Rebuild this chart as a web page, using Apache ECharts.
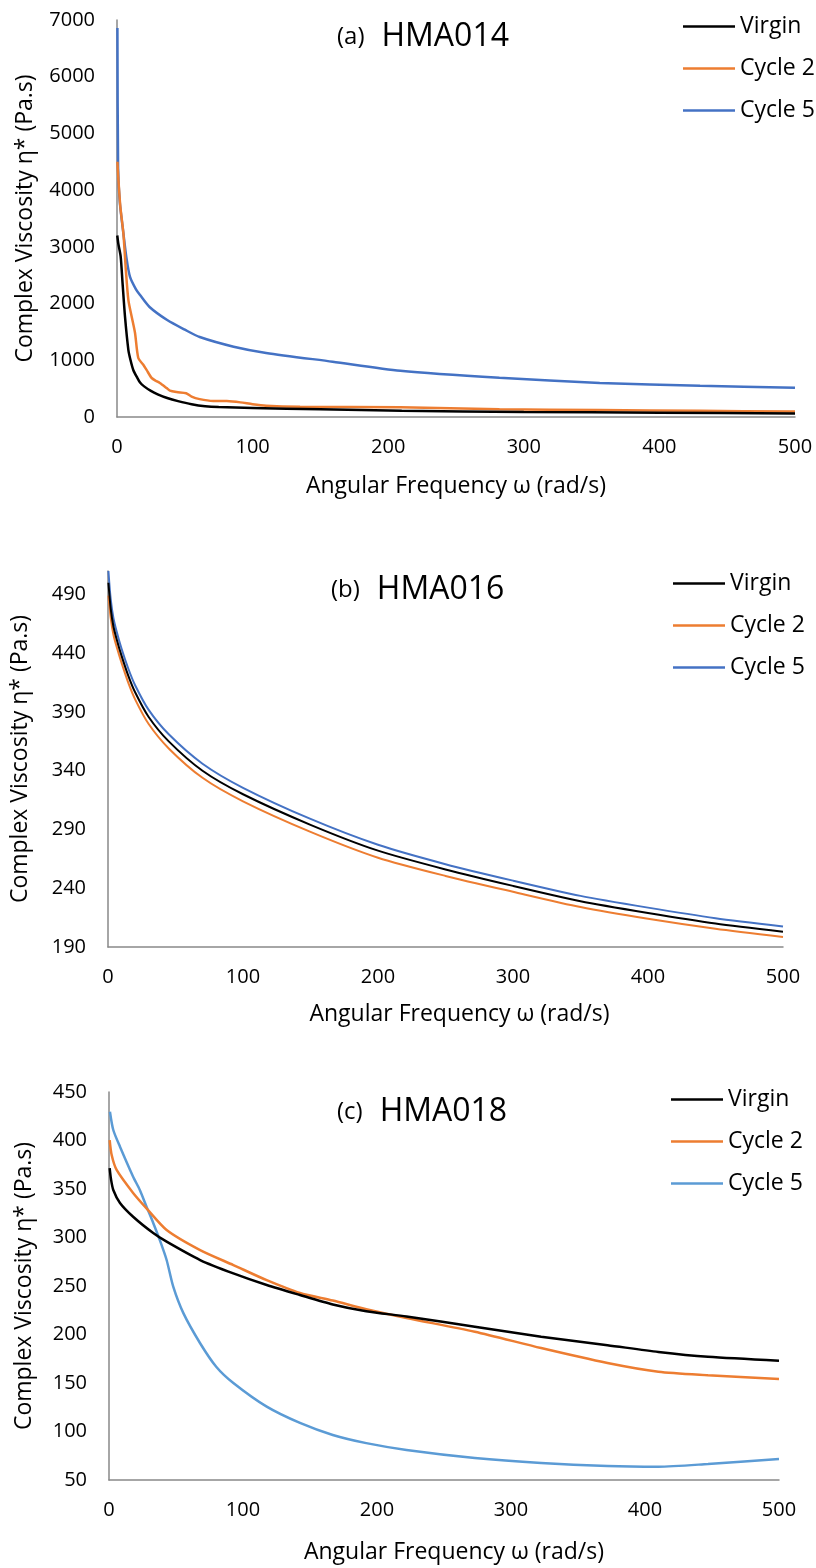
<!DOCTYPE html>
<html>
<head>
<meta charset="utf-8">
<script src="https://cdn.jsdelivr.net/npm/echarts@6/dist/echarts.min.js"></script>
<style>
html,body{margin:0;padding:0;background:#fff;}
#main{width:816px;height:1568px;}
</style>
</head>
<body>
<div id="main"></div>
<script>
// ---------- Data ----------
const seriesNames = ['Virgin', 'Cycle 2', 'Cycle 5'];
const xTicks = [0, 100, 200, 300, 400, 500];

// (a) HMA014
const aVirginX = [0.2, 1, 2.7, 4.1, 5.9, 8.4, 10, 12, 15, 17, 20, 25, 30, 37, 45, 55, 65, 75, 100, 150, 210, 300, 400, 500];
const aVirginY = [3200, 3050, 2830, 2360, 1770, 1180, 1000, 830, 690, 610, 540, 460, 400, 335, 280, 225, 190, 175, 160, 135, 110, 90, 75, 62];
const aCycle2X = [0.3, 1, 2.5, 4.7, 6.5, 8.4, 11, 13.3, 15.7, 19.4, 21.8, 25.5, 28.5, 31.6, 36.6, 39, 44, 51, 55, 61, 71, 81, 91, 100, 110, 135, 209, 282, 356, 430, 500];
const aCycle2Y = [4500, 4200, 3700, 3240, 2600, 2060, 1750, 1480, 1040, 920, 830, 690, 640, 600, 510, 465, 440, 420, 360, 315, 282, 280, 258, 225, 200, 182, 170, 135, 123, 108, 95];
const aCycle5X = [0.3, 0.8, 2, 4.7, 7, 9.6, 14, 17, 24, 37, 50, 61, 86, 110, 159, 209, 282, 356, 430, 500];
const aCycle5Y = [6860, 4400, 3800, 3240, 2800, 2470, 2250, 2150, 1940, 1710, 1540, 1410, 1240, 1130, 975, 815, 690, 600, 550, 515];
const aYTicks = [0, 1000, 2000, 3000, 4000, 5000, 6000, 7000];

// (b) HMA016
const bX = [0.3, 2, 4, 6.4, 10, 15, 20, 30, 45, 70, 100, 150, 200, 250, 300, 350, 400, 450, 500];
const bVirginY = [500, 478, 463, 452, 438, 421, 407, 386, 365, 340, 320, 294, 272, 256, 242, 229, 219, 210, 203];
const bCycle2Y = [489, 470, 456, 445.5, 432, 415, 401, 380, 359, 334, 314, 288, 266, 250.5, 237, 224, 214, 205.5, 198.5];
const bCycle5Y = [510, 486, 470, 458.5, 444, 427, 413, 392, 371, 346, 325.5, 299, 277, 260.5, 246.5, 233.5, 223.5, 214.5, 207.5];
const bYTicks = [190, 240, 290, 340, 390, 440, 490];

// (c) HMA018
const cVirginX = [0.5, 1.5, 3.2, 8.2, 18, 33, 43, 68, 92.8, 117.7, 142.5, 167, 192, 222, 273, 322.5, 372, 410, 447, 500];
const cVirginY = [371.6, 360, 349, 335.6, 321.4, 304.6, 295.7, 276.8, 263, 251, 240.7, 231, 224, 218.6, 208, 197.7, 189, 182, 177, 173];
const cCycle2X = [0.5, 2, 5.7, 18, 28, 43, 68, 92.8, 117.7, 142.5, 167, 192, 222, 273, 322.5, 372, 410, 447, 500];
const cCycle2Y = [400.5, 385, 369.6, 345.9, 330, 307.7, 287, 271.6, 256, 242.8, 235, 226, 217, 202.9, 186, 170.6, 161.6, 158, 154];
const cCycle5X = [0.7, 3.2, 8.2, 18, 23, 28, 33, 38, 43, 48, 55.5, 68, 80, 92.8, 117.7, 142.5, 167, 192, 222, 273, 322.5, 372, 410, 447, 500];
const cCycle5Y = [429.7, 410.8, 393.6, 362.7, 349, 331.8, 315, 297, 276.8, 249, 222, 191, 166.8, 150, 125.6, 108.8, 96.4, 88, 81, 72.7, 67.5, 64.4, 63.7, 66.5, 71.6];
const cYTicks = [50, 100, 150, 200, 250, 300, 350, 400, 450];

// ---------- Helpers ----------
const FONT = '"Open Sans", "Noto Sans", sans-serif';
const zip = (xs, ys) => xs.map((x, i) => [x, ys[i]]);
const colors = {
  black: '#000000', orange: '#ED7D31', blue: '#4472C4', lightBlue: '#5B9BD5'
};
const axisColor = '#898989';

function mkX(gi, gap, padLeft) {
  return {
    gridIndex: gi, type: 'value', min: xTicks[0], max: xTicks[xTicks.length - 1], interval: xTicks[1] - xTicks[0],
    axisLine: { show: true, onZero: false, lineStyle: { color: axisColor, width: 1.5 } },
    axisTick: { show: false }, splitLine: { show: false },
    axisLabel: { margin: 20, fontSize: 20, color: '#000', fontFamily: FONT },
    name: 'Angular Frequency ω (rad/s)', nameLocation: 'middle', nameGap: gap,
    nameTextStyle: { fontSize: 23, color: '#000', fontFamily: FONT, padding: [0, 0, 0, padLeft] }
  };
}
function mkY(gi, ticks, max, gap) {
  return {
    gridIndex: gi, type: 'value', min: ticks[0], max: max, interval: ticks[1] - ticks[0],
    axisLine: { show: true, lineStyle: { color: axisColor, width: 1.5 } },
    axisTick: { show: false }, splitLine: { show: false },
    axisLabel: { margin: 22, fontSize: 20, color: '#000', fontFamily: FONT,
      formatter: v => (ticks.indexOf(v) >= 0 ? String(v) : '') },
    name: 'Complex Viscosity η* (Pa.s)', nameLocation: 'middle', nameGap: gap, nameRotate: 90,
    nameTextStyle: { fontSize: 23, color: '#000', fontFamily: FONT }
  };
}
function mkS(name, gi, data, color, width) {
  return {
    name: name, type: 'line', xAxisIndex: gi, yAxisIndex: gi, data: data,
    showSymbol: false, symbol: 'none', smooth: 0.25,
    lineStyle: { color: color, width: width }, itemStyle: { color: color },
    animation: false, z: 3
  };
}
function mkLegend(left, top, cols) {
  return {
    orient: 'vertical', left: left, top: top, icon: 'rect', itemWidth: 52, itemHeight: 2.5,
    itemGap: 19, selectedMode: false,
    textStyle: { fontSize: 23, color: '#000', fontFamily: FONT },
    data: seriesNames.map((n, i) => ({ name: n, itemStyle: { color: cols[i] }, lineStyle: { color: cols[i] } }))
  };
}
function mkTitle(left, top, tag, name) {
  return {
    left: left, top: top,
    text: '{a|' + tag + '}{b|' + name + '}',
    textStyle: { fontWeight: 'normal', rich: {
      a: { fontSize: 24, fontFamily: FONT, color: '#000', fontWeight: 'normal' },
      b: { fontSize: 32, fontFamily: FONT, color: '#000', fontWeight: 'normal', padding: [0, 0, 0, 17] }
    } }
  };
}

const option = {
  backgroundColor: '#fff',
  animation: false,
  title: [
    mkTitle(332, 16, '(a)', 'HMA014'),
    mkTitle(326, 569, '(b)', 'HMA016'),
    mkTitle(332, 1091, '(c)', 'HMA018')
  ],
  legend: [
    mkLegend(678, 10, [colors.black, colors.orange, colors.blue]),
    mkLegend(668, 567, [colors.black, colors.orange, colors.blue]),
    mkLegend(666, 1083, [colors.black, colors.orange, colors.lightBlue])
  ],
  grid: [
    { left: 117, top: 20, width: 678, height: 397 },
    { left: 108, top: 571, width: 675, height: 376 },
    { left: 109, top: 1092, width: 670, height: 388 }
  ],
  xAxis: [mkX(0, 58, 0), mkX(1, 56, 28), mkX(2, 61, 20)],
  yAxis: [
    mkY(0, aYTicks, 7000, 80),
    mkY(1, bYTicks, 510, 76),
    mkY(2, cYTicks, 450, 73)
  ],
  series: [
    mkS('Cycle 5', 0, zip(aCycle5X, aCycle5Y), colors.blue, 2.5),
    mkS('Cycle 2', 0, zip(aCycle2X, aCycle2Y), colors.orange, 2.5),
    mkS('Virgin', 0, zip(aVirginX, aVirginY), colors.black, 2.5),
    mkS('Cycle 5', 1, zip(bX, bCycle5Y), colors.blue, 2),
    mkS('Cycle 2', 1, zip(bX, bCycle2Y), colors.orange, 2),
    mkS('Virgin', 1, zip(bX, bVirginY), colors.black, 2),
    mkS('Cycle 5', 2, zip(cCycle5X, cCycle5Y), colors.lightBlue, 2.5),
    mkS('Cycle 2', 2, zip(cCycle2X, cCycle2Y), colors.orange, 2.5),
    mkS('Virgin', 2, zip(cVirginX, cVirginY), colors.black, 2.5)
  ]
};
const chart = echarts.init(document.getElementById('main'), null, { renderer: 'canvas' });
chart.setOption(option);
</script>
</body>
</html>
